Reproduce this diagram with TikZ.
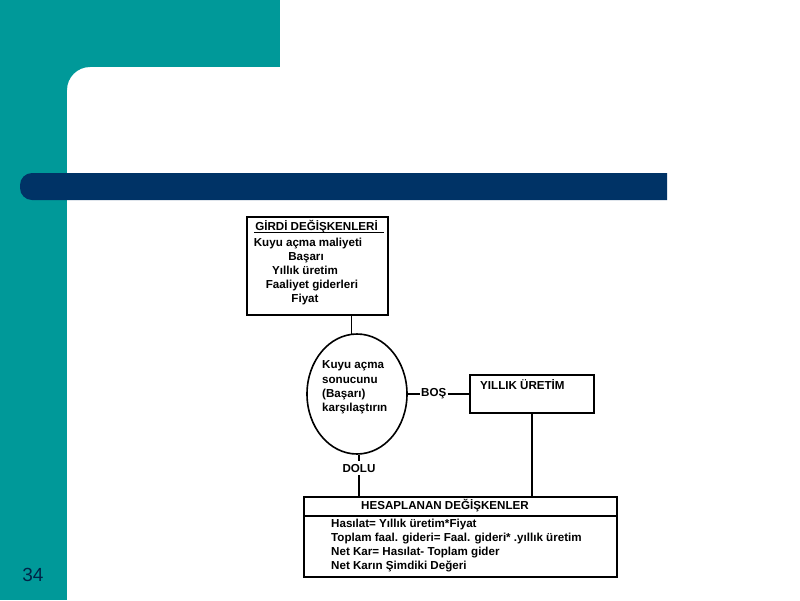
\documentclass[tikz,border=0pt]{standalone}
\usepackage{fontspec}
\setmainfont{Liberation Sans}
\usetikzlibrary{shapes.geometric, positioning}
\definecolor{cTeal}{RGB}{0,153,153}
\definecolor{cNavy}{RGB}{0,51,102}

\tikzset{
  varbox/.style={draw, line width=1.6pt, inner sep=0pt},
  wire/.style={line width=1.8pt},
  lbl/.style={inner sep=1pt, font=\bfseries\fontsize{11.6}{14.6}\selectfont},
}

\begin{document}
\begin{tikzpicture}[x=1pt, y=-1pt]
    \useasboundingbox (0,0) rectangle (800,600);

    % --- Slide frame ---
    \fill[cTeal] (0,0) rectangle (280,67);
    \fill[cTeal] (0,0) rectangle (67,600);
    \fill[cTeal] (67,67) -- (90,67) arc[start angle=270, end angle=180, radius=23] -- cycle;
    \fill[cNavy] (667,173) [rounded corners=12pt] -- (20,173) -- (20,200) [sharp corners] -- (667,200) -- cycle;
    \node[font=\fontsize{19}{21}\selectfont, text=cNavy!70!black, anchor=base] (pageno) at (33,581) {34};

    % --- Input variables ---
    \node[varbox, minimum width=141, minimum height=98] (girdi) at (317.5,266) {};
    \node[lbl, anchor=base] (gtitle) at (316.5,230) {GİRDİ DEĞİŞKENLERİ};
    \draw[line width=1.3pt] ([yshift=-2.5pt]gtitle.base west) -- ([xshift=5pt, yshift=-2.5pt]gtitle.base east);
    \node[lbl, anchor=base] (g1) at (308,246) {Kuyu açma maliyeti};
    \node[lbl, anchor=base] (g2) at (306,260) {Başarı};
    \node[lbl, anchor=base] (g3) at (305,274) {Yıllık üretim};
    \node[lbl, anchor=base] (g4) at (312,288) {Faaliyet giderleri};
    \node[lbl, anchor=base] (g5) at (305,302) {Fiyat};

    % --- Decision ---
    \node[ellipse, draw, line width=1.6pt, minimum width=100, minimum height=120] (karsi) at (357,394) {};
    \node[lbl, anchor=base west] (k1) at (321,368) {Kuyu açma};
    \node[lbl, anchor=base west] (k2) at (321,383) {sonucunu};
    \node[lbl, anchor=base west] (k3) at (321,397) {(Başarı)};
    \node[lbl, anchor=base west] (k4) at (321,411) {karşılaştırın};
    \draw[wire] ([xshift=-5.5pt, yshift=-1pt]karsi.north) -- ([xshift=-5.5pt]karsi.north |- girdi.south);

    % BOŞ branch
    \node[varbox, minimum width=124, minimum height=38] (yillik) at (532,394) {};
    \node[lbl, anchor=base west] (bos) at (420,396) {BOŞ};
    \node[lbl, anchor=base west] (ytitle) at (479,389) {YILLIK ÜRETİM};
    \draw[wire] (karsi.east) -- (karsi.east -| bos.west);
    \draw[wire] (karsi.east -| bos.east) -- (yillik.west);

    % --- Computed variables ---
    \node[varbox, minimum width=313, minimum height=80] (hesap) at (460.5,537) {};
    \draw[wire] (hesap.north west |- 0,516) -- (hesap.north east |- 0,516);
    \node[lbl, anchor=base] (htitle) at (445,509) {HESAPLANAN DEĞİŞKENLER};
    \node[lbl, anchor=base west] (h1) at (330,527) {Hasılat= Yıllık üretim*Fiyat};
    \node[lbl, anchor=base west] (h2) at (330,541.5) {Toplam faal. gideri= Faal. gideri* .yıllık üretim};
    \node[lbl, anchor=base west] (h3) at (330,555.5) {Net Kar= Hasılat- Toplam gider};
    \node[lbl, anchor=base west] (h4) at (330,569.5) {Net Karın Şimdiki Değeri};

    % DOLU branch
    \node[lbl, inner sep=3pt, anchor=base] (dolu) at (359,472) {DOLU};
    \draw[wire] (karsi.south -| dolu.north) -- (dolu.north);
    \draw[wire] (dolu.south) -- (dolu.south |- hesap.north);
    \draw[wire] (yillik.south) -- (yillik.south |- hesap.north);

\end{tikzpicture}
\end{document}
